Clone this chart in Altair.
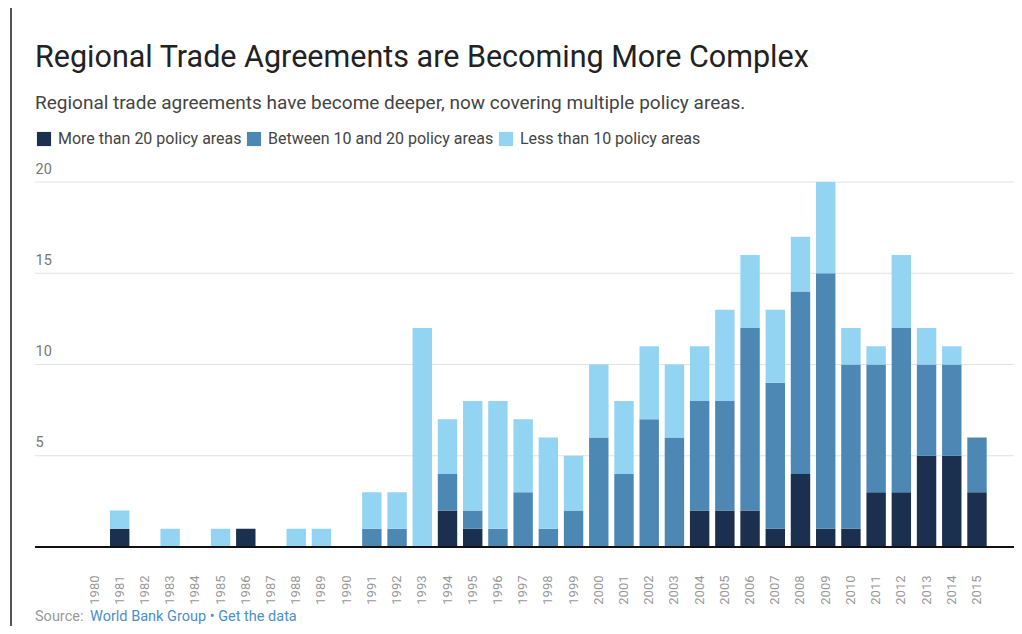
import altair as alt
import pandas as pd

years = [str(y) for y in range(1980, 2016)]
more_than_20 = [0, 1, 0, 0, 0, 0, 1, 0, 0, 0, 0, 0, 0, 0, 2, 1, 0, 0, 0, 0,
                0, 0, 0, 0, 2, 2, 2, 1, 4, 1, 1, 3, 3, 5, 5, 3]
between_10_20 = [0, 0, 0, 0, 0, 0, 0, 0, 0, 0, 0, 1, 1, 0, 2, 1, 1, 3, 1, 2,
                 6, 4, 7, 6, 6, 6, 10, 8, 10, 14, 9, 7, 9, 5, 5, 3]
less_than_10 = [0, 1, 0, 1, 0, 1, 0, 0, 1, 1, 0, 2, 2, 12, 3, 6, 7, 4, 5, 3,
                4, 4, 4, 4, 3, 5, 4, 4, 3, 5, 2, 1, 4, 2, 1, 0]
y_ticks = [5, 10, 15, 20]

series_names = ["More than 20 policy areas", "Between 10 and 20 policy areas",
                "Less than 10 policy areas"]
series_values = [more_than_20, between_10_20, less_than_10]
colors = ["#1b2f4e", "#4d88b5", "#93d4f2"]

rows = []
for si, (name, vals) in enumerate(zip(series_names, series_values)):
    for y, v in zip(years, vals):
        rows.append({"year": y, "series": name, "order": si, "count": v})
df = pd.DataFrame(rows)

FONT = "Roboto"
yscale = alt.Scale(domain=[0, 20], nice=False)

grid = alt.Chart(pd.DataFrame({"v": y_ticks})).mark_rule(color="#e2e2e2", strokeWidth=1).encode(
    y=alt.Y("v:Q", scale=yscale))

bars = alt.Chart(df).mark_bar().encode(
    x=alt.X("year:O", sort=years,
            scale=alt.Scale(paddingInner=0.23, paddingOuter=0, range=[49.8, 951.7]),
            axis=alt.Axis(title=None, labelAngle=270, labelPadding=28,
                          labelFontSize=13, labelColor="#999999", labelFont=FONT,
                          ticks=False, domain=False, grid=False)),
    y=alt.Y("sum(count):Q", scale=yscale,
            axis=alt.Axis(title=None, values=y_ticks, labelAlign="left",
                          labelBaseline="bottom", labelPadding=0, labelOffset=-6,
                          labelFontSize=14.5, labelColor="#777777", labelFont=FONT,
                          ticks=False, domain=False, grid=False)),
    color=alt.Color("series:N", sort=series_names,
                    scale=alt.Scale(domain=series_names, range=colors),
                    legend=alt.Legend(title=None, orient="none", legendX=1, legendY=-51,
                                      direction="horizontal", symbolType="square",
                                      symbolSize=200, symbolStrokeWidth=0,
                                      symbolOpacity=1, labelFontSize=16,
                                      labelFont=FONT, labelColor="#444444",
                                      labelLimit=400, labelOffset=6, columnPadding=4)),
    order=alt.Order("order:Q", sort="ascending"),
)

baseline = alt.Chart(pd.DataFrame({"v": [0]})).mark_rule(color="#111111", strokeWidth=2).encode(
    y=alt.Y("v:Q", scale=yscale))

src_df = pd.DataFrame({"t": ["Source:"]})
src1 = alt.Chart(src_df).mark_text(align="left", baseline="alphabetic", fontSize=14.5,
                                   font=FONT, color="#999999").encode(
    x=alt.value(0), y=alt.value(439), text="t:N")
src_df2 = pd.DataFrame({"t": ["World Bank Group \u2022 Get the data"]})
src2 = alt.Chart(src_df2).mark_text(align="left", baseline="alphabetic", fontSize=14.5,
                                    font=FONT, color="#4a8fc7").encode(
    x=alt.value(55), y=alt.value(439), text="t:N")

frame = alt.Chart(pd.DataFrame({"a": [0]})).mark_rule(color="#555555", strokeWidth=2).encode(
    x=alt.value(-24), y=alt.value(-174), y2=alt.value(444))

chart = alt.layer(frame, grid, bars, baseline, src1, src2).properties(
    width=979, height=365,
    autosize=alt.AutoSizeParams(type="none"),
    padding={"left": 27, "top": 174, "right": 0, "bottom": 79},
    title=alt.TitleParams(
        text="Regional Trade Agreements are Becoming More Complex",
        subtitle="Regional trade agreements have become deeper, now covering multiple policy areas.",
        anchor="start", frame="group", font=FONT, fontSize=30.5, fontWeight=400,
        color="#222222", subtitleFont=FONT, subtitleFontSize=19,
        subtitleColor="#444444", subtitlePadding=21, offset=-106),
).configure_view(stroke=None)

chart.save("out.html", embed_options={"renderer": "svg", "actions": False})
